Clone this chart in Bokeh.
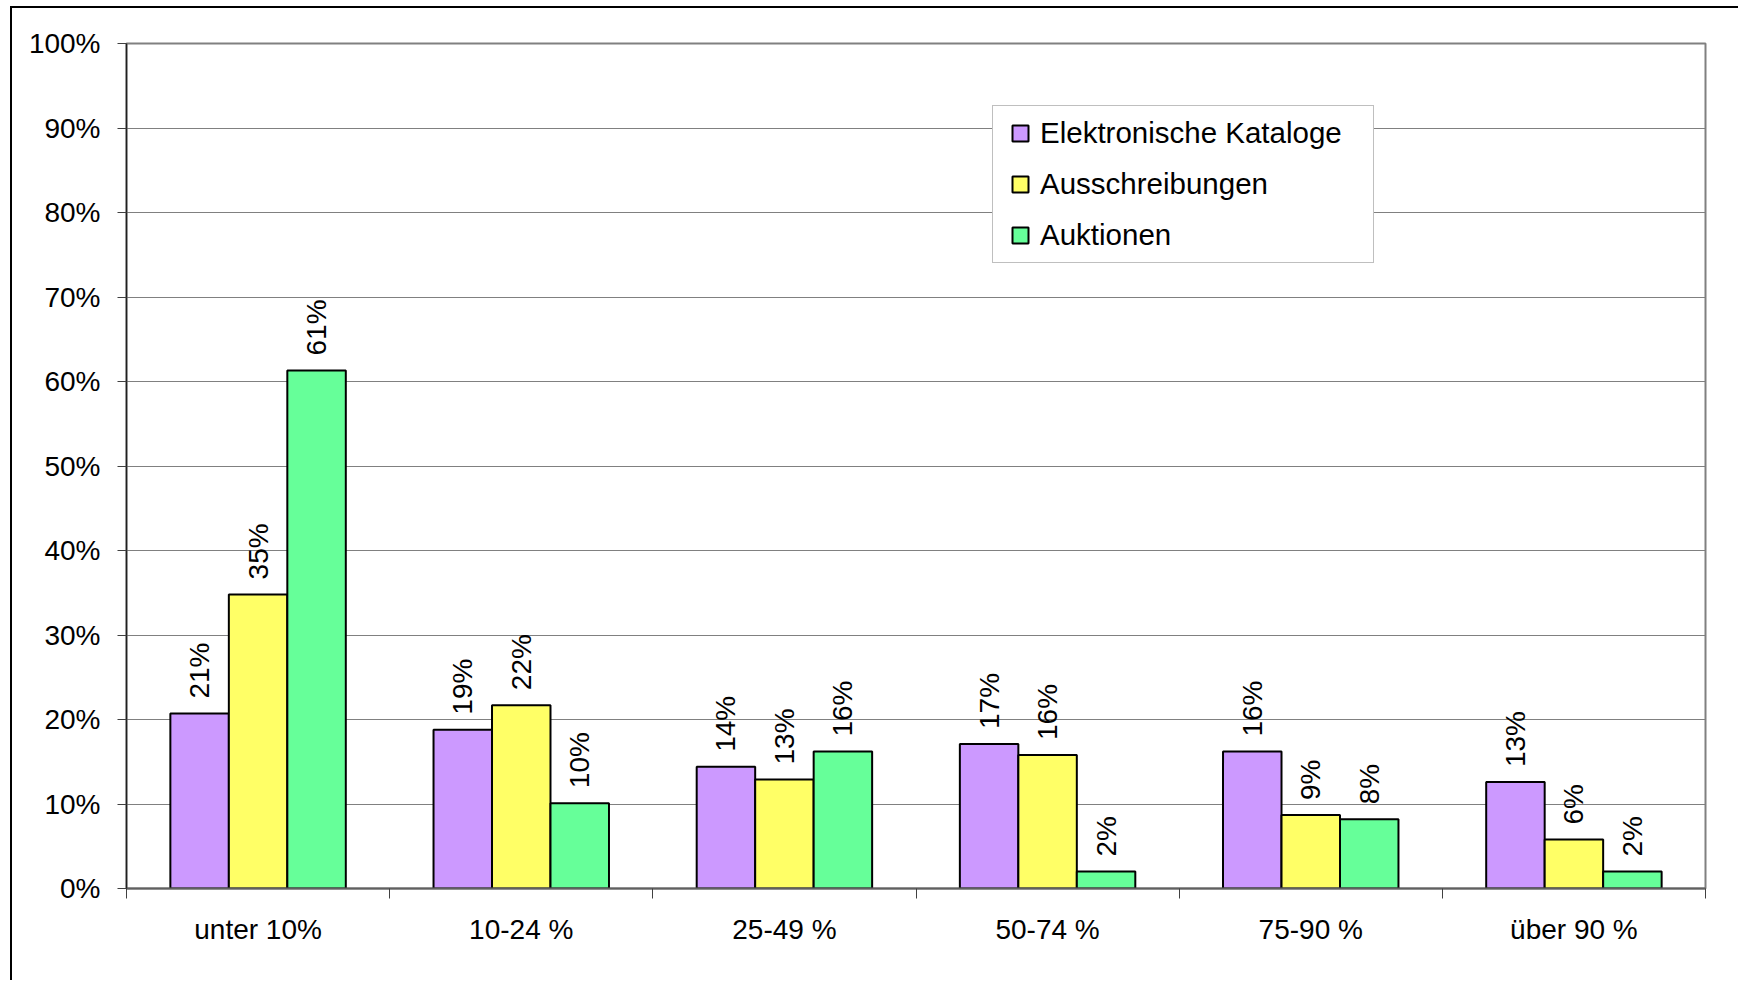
import math
from bokeh.plotting import figure
from bokeh.models import (ColumnDataSource, Range1d, FixedTicker, Legend, LegendItem,
                          PrintfTickFormatter)
from bokeh.transform import dodge
from bokeh.core.properties import value
from bokeh.embed import file_html
from bokeh.resources import INLINE

# ---- data ----
categories = ["unter 10%", "10-24 %", "25-49 %", "50-74 %", "75-90 %", "über 90 %"]
series_names = ["Elektronische Kataloge", "Ausschreibungen", "Auktionen"]
kataloge = [20.7, 18.8, 14.4, 17.1, 16.2, 12.6]
ausschreibungen = [34.8, 21.7, 12.9, 15.8, 8.7, 5.8]
auktionen = [61.3, 10.1, 16.2, 2.0, 8.2, 2.0]
y_ticks = [0, 10, 20, 30, 40, 50, 60, 70, 80, 90, 100]

colors = ["#CC99FF", "#FFFF66", "#66FF99"]
FONT = "Liberation Sans"
FS = "28px"

n = len(categories)
centers = [i + 0.5 for i in range(n)]
boundaries = list(range(n + 1))
bar_w = 2 / 9
offsets = [-bar_w, 0.0, bar_w]

p = figure(width=1728, height=974,
           x_range=Range1d(0, n), y_range=Range1d(0, 100),
           output_backend="svg", toolbar_location=None,
           min_border_left=114, min_border_right=35,
           min_border_top=35, min_border_bottom=94)
p.margin = (6, 0, 0, 10)
p.styles = {"border-left": "2px solid #000000", "border-top": "2px solid #000000"}
p.background_fill_color = "white"
p.border_fill_color = "white"
p.outline_line_color = "#808080"
p.outline_line_width = 2

# x axis: labels at category centres, ticks at category boundaries
p.xaxis.ticker = FixedTicker(ticks=centers, minor_ticks=boundaries)
p.xaxis.major_label_overrides = {c: name for c, name in zip(centers, categories)}
p.xaxis.major_tick_out = 0
p.xaxis.major_tick_in = 0
p.xaxis.minor_tick_out = 10
p.xaxis.minor_tick_in = 0
p.xaxis.minor_tick_line_color = "#404040"
p.xaxis.axis_line_color = "#606060"
p.xaxis.axis_line_width = 2
p.xaxis.major_label_standoff = 15
p.xaxis.major_label_text_font = FONT
p.xaxis.major_label_text_font_size = FS
p.xaxis.major_label_text_color = "black"

# y axis
p.yaxis.ticker = FixedTicker(ticks=y_ticks)
p.yaxis.formatter = PrintfTickFormatter(format="%d%%")
p.yaxis.major_tick_out = 9
p.yaxis.major_tick_in = 0
p.yaxis.minor_tick_out = 0
p.yaxis.minor_tick_in = 0
p.yaxis.major_tick_line_color = "#404040"
p.yaxis.axis_line_color = "#202020"
p.yaxis.axis_line_width = 1.5
p.yaxis.major_label_standoff = 17
p.yaxis.major_label_text_font = FONT
p.yaxis.major_label_text_font_size = FS
p.yaxis.major_label_text_color = "black"

p.xgrid.visible = False
p.ygrid.ticker = FixedTicker(ticks=y_ticks)
p.ygrid.grid_line_color = "#808080"
p.ygrid.grid_line_width = 1

legend_items = []
for vals, name, col, off in zip([kataloge, ausschreibungen, auktionen], series_names, colors, offsets):
    src = ColumnDataSource(dict(x=centers, top=vals, label=[f"{round(v)}%" for v in vals]))
    p.vbar(x=dodge("x", off, range=p.x_range), top="top", bottom=0, width=bar_w,
           source=src, fill_color=col, line_color="black", line_width=2)
    p.text(x=dodge("x", off, range=p.x_range), y="top", text="label", source=src,
           angle=math.pi / 2, text_align="left", text_baseline="middle", y_offset=-15,
           text_font=value(FONT), text_font_size=FS, text_color="black")
    # legend swatch renderer (zero-size markers sitting on the bar tops)
    r = p.scatter(x=dodge("x", off, range=p.x_range), y="top", source=src, marker="square",
                  size=0, fill_color=col, line_color="black", line_width=2, level="underlay")
    legend_items.append(LegendItem(label=name, renderers=[r]))

legend = Legend(items=legend_items, location=(866, 625), margin=0, padding=7, spacing=11,
                label_height=40, glyph_height=40, glyph_width=40, label_standoff=0,
                label_width=326, border_line_color="#808080", border_line_width=1,
                background_fill_color="white", background_fill_alpha=1.0,
                label_text_font=FONT, label_text_font_size="29.5px", label_text_color="black")
p.add_layout(legend)

open("out.html", "w").write(file_html(p, INLINE))
